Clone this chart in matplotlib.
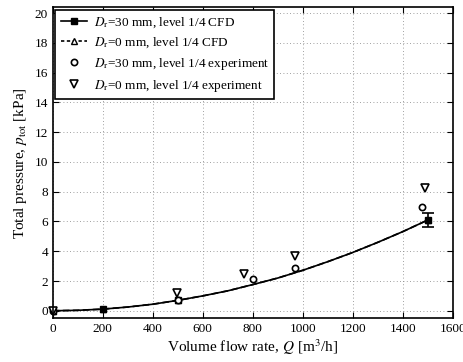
import numpy as np
import matplotlib
matplotlib.use('Agg')
import matplotlib.pyplot as plt

plt.rcParams['font.family'] = ['Liberation Serif', 'DejaVu Serif']
plt.rcParams['mathtext.fontset'] = 'stix'

# CFD points
q_cfd = [0, 200, 500, 1500]
p_cfd30 = [0.0, 0.12, 0.72, 6.1]
p_cfd0 = [0.0, 0.12, 0.72, 6.1]
err_1500 = 0.5

# smooth CFD curve
q_curve = [0, 100, 200, 300, 400, 500, 600, 700, 800, 900, 1000, 1100, 1200, 1300, 1400, 1500]
p_curve = [0.0, 0.03, 0.11, 0.25, 0.44, 0.70, 1.0, 1.34, 1.76, 2.2, 2.72, 3.3, 3.92, 4.6, 5.32, 6.1]

# experiments
q_exp30 = [0, 500, 800, 970, 1475]
p_exp30 = [0.0, 0.75, 2.15, 2.85, 7.0]
q_exp0 = [0, 495, 765, 970, 1490]
p_exp0 = [0.0, 1.22, 2.44, 3.68, 8.25]

fig = plt.figure(figsize=(4.63, 3.62), dpi=100)
ax = fig.add_axes([0.114, 0.121, 0.864, 0.859])

ax.plot(q_curve, p_curve, color='black', lw=1.2)
ax.plot(q_curve, p_curve, color='black', lw=1.2, ls=(0, (4, 2)))
h1, = ax.plot(q_cfd, p_cfd30, color='black', lw=1.2, marker='s', ms=4, mfc='black', ls='none')
h2, = ax.plot(q_cfd, p_cfd0, color='black', lw=1.2, marker='^', ms=5, mfc='black', ls='none')
ax.errorbar([q_cfd[-1]], [p_cfd30[-1]], yerr=err_1500, color='black', lw=1.2, capsize=4, capthick=1.2, fmt='none')
h3, = ax.plot(q_exp30, p_exp30, 'o', color='black', mfc='white', mew=1.2, ms=4.5, clip_on=False)
h4, = ax.plot(q_exp0, p_exp0, 'v', color='black', mfc='white', mew=1.2, ms=5.5, clip_on=False)

# legend proxies with line + marker
l1, = ax.plot([], [], color='black', lw=1.2, marker='s', ms=4)
l2, = ax.plot([], [], color='black', lw=1.2, ls=(0, (2, 1.5)), marker='^', ms=5, mfc='white')
leg = ax.legend([l1, l2, h3, h4],
                [r'$D_{\rm r}$=30 mm, level 1/4 CFD',
                 r'$D_{\rm r}$=0 mm, level 1/4 CFD',
                 r'$D_{\rm r}$=30 mm, level 1/4 experiment',
                 r'$D_{\rm r}$=0 mm, level 1/4 experiment'],
                loc='upper left', fontsize=9.5, frameon=True, fancybox=False,
                edgecolor='black', framealpha=1, handlelength=2.0,
                borderaxespad=0.2, labelspacing=0.45, handletextpad=0.5)
leg.get_frame().set_linewidth(1.2)

ax.set_xlim(0, 1600)
ax.set_ylim(-0.5, 20.4)
ax.set_xticks(np.arange(0, 1601, 200))
ax.set_yticks(np.arange(0, 21, 2))
ax.grid(True, ls=(0, (1, 3)), color='gray', lw=0.6)
ax.tick_params(direction='in', top=True, right=True, labelsize=9.5, length=4)
for s in ax.spines.values():
    s.set_linewidth(1.2)

ax.set_xlabel(r'Volume flow rate, $Q$ [m$^3$/h]', fontsize=11, labelpad=2)
ax.set_ylabel(r'Total pressure, $p_{\rm tot}$ [kPa]', fontsize=11, labelpad=4)

fig.savefig('out.png', dpi=100)
